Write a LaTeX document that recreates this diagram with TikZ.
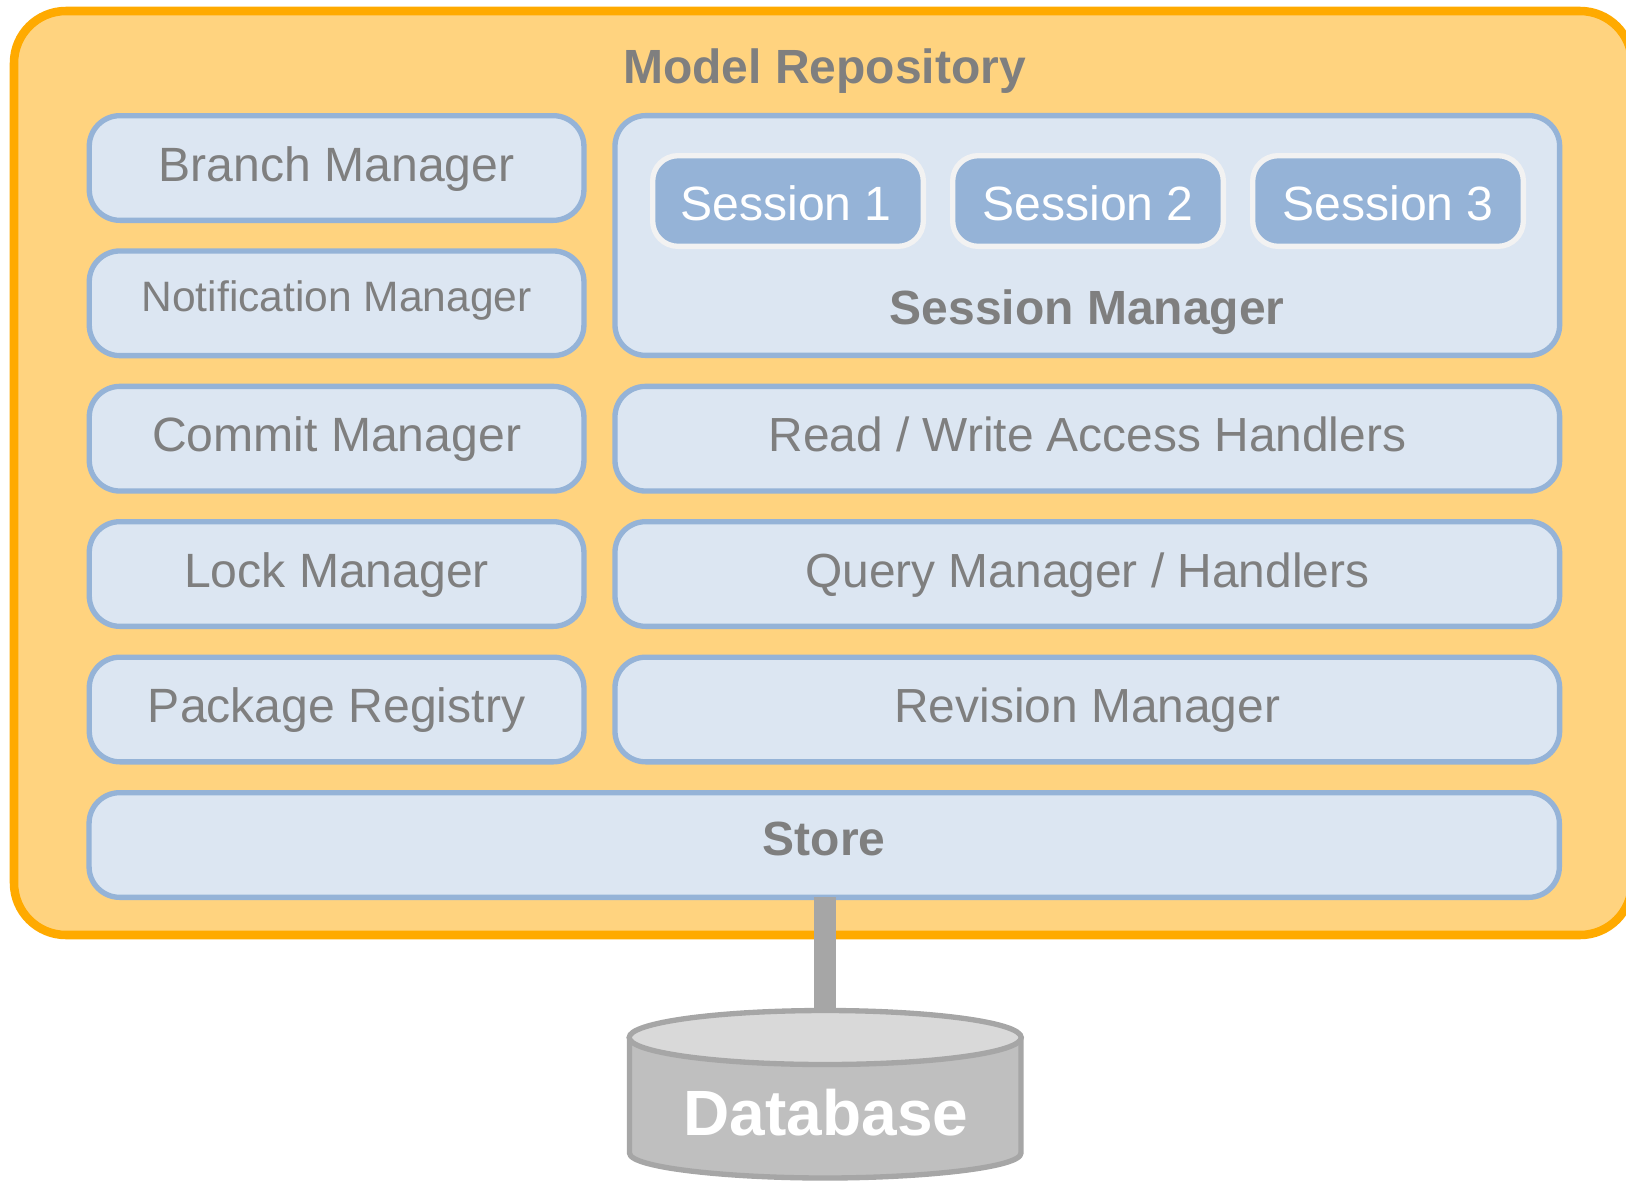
\documentclass[tikz,border=0pt]{standalone}
\usepackage{fontspec}
\setmainfont{Liberation Sans}
\usetikzlibrary{shapes.geometric}
\definecolor{repofill}{HTML}{FFD37F}
\definecolor{repoline}{HTML}{FFAA00}
\definecolor{boxfill}{HTML}{DCE6F2}
\definecolor{boxline}{HTML}{95B3D7}
\definecolor{pillline}{HTML}{F2F2F2}
\definecolor{txt}{HTML}{7F7F7F}
\definecolor{dbline}{HTML}{A6A6A6}
\definecolor{dbbody}{HTML}{BFBFBF}
\definecolor{dbtopc}{HTML}{D9D9D9}
\newcommand{\txtreg}{\fontsize{36.1}{40}\selectfont}
\newcommand{\txtright}{\fontsize{35.9}{40}\selectfont}
\newcommand{\txtbold}{\fontsize{36}{40}\selectfont\bfseries}
\tikzset{
  x=0.75pt, y=-0.75pt,
  repo/.style={draw=repoline, fill=repofill, line width=6.4pt, rounded corners=39pt,
    minimum width=1213.5pt, minimum height=693pt, inner sep=0pt, outer sep=0pt},
  basebox/.style={draw=boxline, fill=boxfill, line width=4pt, rounded corners=23pt,
    inner sep=0pt, outer sep=0pt, text=txt, font=\txtreg, text depth=0pt, text height=19.5pt},
  leftbox/.style={basebox, minimum width=371pt, minimum height=78.5pt},
  rightbox/.style={basebox, minimum width=708.5pt, minimum height=78.5pt, font=\txtright},
  sessionmgr/.style={basebox, minimum width=708.5pt, minimum height=179.8pt},
  storebox/.style={basebox, minimum width=1102.7pt, minimum height=78.5pt, font=\txtbold, text height=16pt},
  pill/.style={draw=pillline, fill=boxline, line width=4pt, rounded corners=19pt,
    minimum width=203pt, minimum height=68pt, inner sep=0pt, outer sep=0pt,
    text=white, font=\txtreg, text depth=0pt, text height=29.25pt},
  title/.style={anchor=base, inner sep=0pt, text=txt, font=\txtbold},
  link/.style={draw=dbline, line width=16.5pt},
  dbshape/.style={draw=dbline, fill=dbbody, line width=4pt, line join=round},
  dbcap/.style={ellipse, draw=dbline, fill=dbtopc, line width=4pt,
    minimum width=294pt, minimum height=40.5pt, inner sep=0pt, outer sep=0pt},
}
\begin{document}
\begin{tikzpicture}
\useasboundingbox (0,0) rectangle (1626,1181);
\clip (0,0) rectangle (1626,1181);

\node[repo] (repository) at (823,473) {};
\node[title] (repotitle) at (824.5,84) {Model Repository};

\node[leftbox] (branch) at (336.6,168) {Branch Manager};
\node[leftbox, text height=12pt, font=\fontsize{31.9}{36}\selectfont] (notification) at (336.6,303.3) {Notification Manager};
\node[leftbox] (commit) at (336.6,438.7) {Commit Manager};
\node[leftbox] (lock) at (336.6,574) {Lock Manager};
\node[leftbox] (package) at (336.6,709.5) {Package Registry};

\node[sessionmgr] (sessionmanager) at (1087.3,235.5) {};
\node[pill] (s1) at (788,201) {\hspace*{-3pt}Session 1};
\node[pill] (s2) at (1088,201) {Session 2};
\node[pill] (s3) at (1388,201) {Session 3};
\node[title] (sessiontitle) at (1087.3,324) {Session Manager};

\node[rightbox] (readwrite) at (1087.3,438.7) {Read / Write Access Handlers};
\node[rightbox] (query) at (1087.3,574) {Query Manager / Handlers};
\node[rightbox] (revision) at (1087.3,709.5) {Revision Manager};
\node[storebox] (store) at (824.2,845) {Store};

\draw[dbshape] (629.5,1037.5) -- (629.5,1153)
  .. controls (629.5,1168) and (730,1178) .. (825,1178)
  .. controls (920,1178) and (1021,1168) .. (1021,1153) -- (1021,1037.5) -- cycle;
\node[dbcap] (dbtop) at (825.2,1037.5) {};
\draw[link] (store.south -| dbtop.north) -- (dbtop.north);
\node[anchor=base, inner sep=0pt, text=white, font=\fontsize{48}{52}\selectfont\bfseries] (dblabel) at (826,1135) {Database};
\end{tikzpicture}
\end{document}
